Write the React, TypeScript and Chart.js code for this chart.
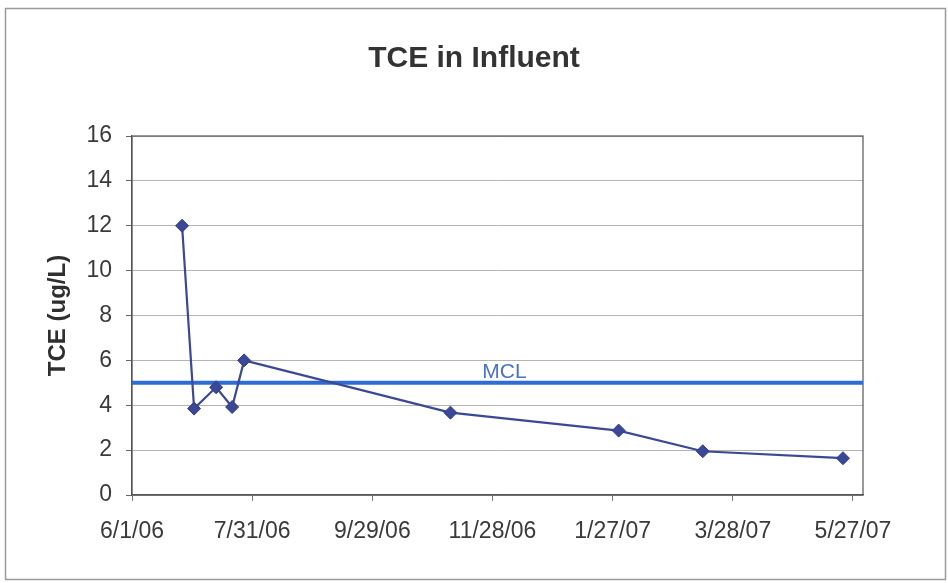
import React, { useEffect, useRef } from "react";
import { Chart, registerables } from "chart.js";

Chart.register(...registerables);

// ---- data ----
const startDate = "2006-06-01";
const sampleDates = [
  "2006-06-26",
  "2006-07-02",
  "2006-07-13",
  "2006-07-21",
  "2006-07-27",
  "2006-11-07",
  "2007-01-30",
  "2007-03-13",
  "2007-05-22",
];
const tceValues = [12.0, 3.85, 4.8, 3.92, 6.0, 3.67, 2.87, 1.95, 1.64];
const mclValue = 5;
const mclLabel = "MCL";
const tickDates = [
  "2006-06-01",
  "2006-07-31",
  "2006-09-29",
  "2006-11-28",
  "2007-01-27",
  "2007-03-28",
  "2007-05-27",
];
const tickLabels = ["6/1/06", "7/31/06", "9/29/06", "11/28/06", "1/27/07", "3/28/07", "5/27/07"];
const axisEndDate = "2007-06-01";
const mclLabelDate = "2006-12-04";
const yTicks = [0, 2, 4, 6, 8, 10, 12, 14, 16];
const chartTitle = "TCE in Influent";
const yTitle = "TCE (ug/L)";

const dayOf = (s: string) => {
  const [y, m, d] = s.split("-").map(Number);
  const [y0, m0, d0] = startDate.split("-").map(Number);
  return Math.round((Date.UTC(y, m - 1, d) - Date.UTC(y0, m0 - 1, d0)) / 86400000);
};

const FONT = "'Liberation Sans', Arial, sans-serif";

export default function App() {
  const ref = useRef<HTMLCanvasElement | null>(null);

  useEffect(() => {
    if (!ref.current) return;
    const tickDays = tickDates.map(dayOf);
    const maxDay = dayOf(axisEndDate);

    const framePlugin = {
      id: "frame",
      beforeDraw(chart: any) {
        const ctx = chart.ctx;
        ctx.save();
        ctx.fillStyle = "#ffffff";
        ctx.fillRect(0, 0, chart.width, chart.height);
        ctx.strokeStyle = "#9a9a9a";
        ctx.lineWidth = 1.5;
        ctx.strokeRect(5.5, 8.5, 940, 571);
        ctx.restore();
      },
      beforeDatasetsDraw(chart: any) {
        const { ctx, chartArea } = chart;
        ctx.save();
        ctx.strokeStyle = "#555555";
        ctx.lineWidth = 1.2;
        ctx.strokeRect(chartArea.left, chartArea.top, chartArea.right - chartArea.left, chartArea.bottom - chartArea.top);
        ctx.restore();
      },
      afterDatasetsDraw(chart: any) {
        const { ctx, scales } = chart;
        const x = scales.x.getPixelForValue(dayOf(mclLabelDate));
        const y = scales.y.getPixelForValue(mclValue);
        ctx.save();
        ctx.fillStyle = "#4a72c8";
        ctx.font = `21px ${FONT}`;
        ctx.textAlign = "center";
        ctx.textBaseline = "alphabetic";
        ctx.fillText(mclLabel, x, y - 5);
        ctx.restore();
      },
    };

    const chart = new Chart(ref.current, {
      type: "line",
      data: {
        datasets: [
          {
            label: "TCE",
            data: sampleDates.map((d, i) => ({ x: dayOf(d), y: tceValues[i] })),
            borderColor: "rgb(58,72,150)",
            backgroundColor: "rgb(58,72,150)",
            borderWidth: 2.2,
            pointStyle: "rectRot",
            pointRadius: 6.5,
            pointBorderWidth: 1,
            pointBorderColor: "rgb(50,62,135)",
            order: 0,
          },
          {
            label: mclLabel,
            data: [
              { x: 0, y: mclValue },
              { x: maxDay, y: mclValue },
            ],
            borderColor: "rgb(45,108,212)",
            backgroundColor: "rgb(45,108,212)",
            borderWidth: 4,
            pointRadius: 0,
            order: 1,
          },
        ],
      },
      options: {
        animation: false,
        responsive: false,
        layout: { padding: { left: 0, top: 0, right: 0, bottom: 0 } },
        plugins: {
          legend: { display: false },
          tooltip: { enabled: false },
          title: {
            display: true,
            text: chartTitle,
            color: "#333333",
            font: { family: FONT, size: 30, weight: "bold" },
            padding: { top: 41, bottom: 59 },
          },
        },
        scales: {
          x: {
            type: "linear",
            min: 0,
            max: maxDay,
            afterFit(scale: any) {
              scale.height = 88;
            },
            afterBuildTicks(scale: any) {
              scale.ticks = tickDays.map((v) => ({ value: v }));
            },
            ticks: {
              autoSkip: false,
              maxRotation: 0,
              padding: 17,
              color: "#3a3a3a",
              font: { family: FONT, size: 23 },
              callback: (v: any) => {
                const i = tickDays.indexOf(Number(v));
                return i >= 0 ? tickLabels[i] : "";
              },
            },
            grid: {
              display: true,
              drawOnChartArea: false,
              drawTicks: true,
              tickLength: 6,
              color: "#777777",
              tickColor: "#777777",
            },
            border: { display: true, color: "#555555", width: 1.2 },
          },
          y: {
            type: "linear",
            min: 0,
            max: 16,
            afterFit(scale: any) {
              scale.width = 132;
            },
            afterBuildTicks(scale: any) {
              scale.ticks = yTicks.map((v) => ({ value: v }));
            },
            ticks: {
              padding: 14,
              color: "#3a3a3a",
              font: { family: FONT, size: 23 },
            },
            grid: {
              color: "#b4b4b4",
              lineWidth: 1,
              drawTicks: true,
              tickLength: 6,
              tickColor: "#666666",
            },
            border: { display: true, color: "#555555", width: 1.2 },
            title: {
              display: true,
              text: yTitle,
              color: "#2f2f2f",
              font: { family: FONT, size: 24, weight: "bold" },
              padding: { top: 44, bottom: 0 },
            },
          },
          spacer: {
            type: "linear",
            position: "right",
            display: true,
            min: 0,
            max: 16,
            afterFit(scale: any) {
              scale.width = 85;
            },
            ticks: { display: false },
            grid: { display: false, drawTicks: false },
            border: { display: false },
          },
        },
      },
      plugins: [framePlugin],
    });

    return () => chart.destroy();
  }, []);

  return (
    <div style={{ position: "absolute", left: 0, top: 0, width: 948, height: 583 }}>
      <canvas ref={ref} width={948} height={583} style={{ width: 948, height: 583, display: "block" }} />
    </div>
  );
}
